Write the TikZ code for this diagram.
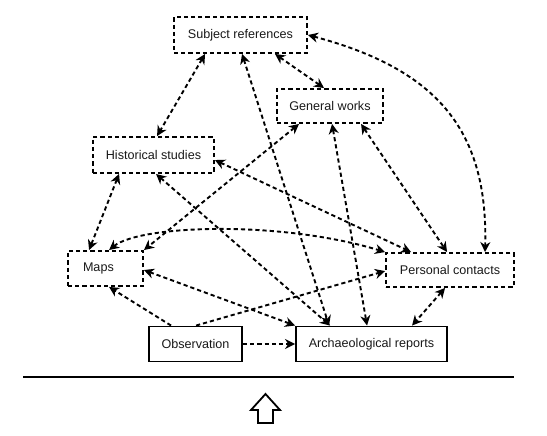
\documentclass[tikz,border=0pt]{standalone}
\usepackage{fontspec}
\setmainfont{Liberation Sans}
\usetikzlibrary{arrows.meta}
\begin{document}
\begin{tikzpicture}[x=1pt,y=-1pt,
  lbl/.style={font=\fontsize{12.6}{15}\selectfont, text=black!90, inner sep=0pt, align=center},
  dbox/.style={lbl, draw, line width=1.9pt, dash pattern=on 4.2pt off 3pt},
  sbox/.style={lbl, draw, line width=1.9pt},
  tip/.tip={Stealth[length=10pt,width=10pt,inset=3.2pt]},
  link/.style={line width=1.9pt, dash pattern=on 4.2pt off 3pt, tip-tip},
  onelink/.style={line width=1.9pt, dash pattern=on 4.2pt off 3pt, -tip}]
\useasboundingbox (0,0) rectangle (547,436);
% nodes
\node[dbox, minimum width=133pt, minimum height=36pt] (sr) at (240.5,35) {Subject references};
\node[dbox, minimum width=106pt, minimum height=34pt] (gw) at (330,106) {General works};
\node[dbox, minimum width=121pt, minimum height=36pt] (hs) at (153.5,155) {Historical studies};
\node[dbox, minimum width=75pt, minimum height=35pt, text width=45pt, inner xsep=15pt, align=left] (maps) at (105.5,268.5) {Maps};
\node[dbox, minimum width=128pt, minimum height=34pt] (pc) at (450,270) {Personal contacts};
\node[sbox, minimum width=93pt, minimum height=35pt] (obs) at (195.5,344) {Observation};
\node[sbox, minimum width=151pt, minimum height=35pt] (ar) at (371.5,344) {Archaeological reports};
% connectors
\draw[link] ([xshift=32pt]sr.south west) -- ([xshift=65pt]hs.north west);
\draw[link] ([xshift=69pt]sr.south west) -- ([xshift=34pt]ar.north west);
\draw[link] ([xshift=64pt]hs.south west) -- ([xshift=35pt]ar.north west);
\draw[link] ([xshift=23pt]gw.south west) -- (maps.north east);
\draw[link] ([xshift=56pt]gw.south west) -- ([xshift=72pt]ar.north west);
\draw[link] ([xshift=85pt]gw.south west) -- ([xshift=62pt]pc.north west);
\draw[link] ([xshift=60pt]pc.south west) -- ([xshift=117pt]ar.north west);
\draw[link] ([yshift=-24pt]hs.north east) -- ([xshift=26pt]pc.north west);
\draw[link] (sr.east) .. controls (440,70) and (488,133) .. ([xshift=100pt]pc.north west);
\draw[link] ([xshift=27pt]hs.south west) -- ([xshift=22pt]maps.north west);
\draw[link] ([xshift=42pt]maps.north west) .. controls (140,225) and (280,220) .. (pc.north west);
\draw[onelink] ([xshift=23pt]obs.north west) -- ([xshift=42pt]maps.south west);
\draw[onelink] ([xshift=48pt]obs.north west) -- ([yshift=-19pt]pc.north west);
\draw[onelink] (obs.east) -- (ar.west);
\draw[link] ([xshift=102pt]sr.south west) -- ([xshift=48pt]gw.north west);
\draw[link] ([yshift=-20pt]maps.north east) -- (ar.north west);
% separator and open arrow
\coordinate (la) at (23,377);
\coordinate (lb) at (514,377);
\draw[line width=2pt] (la) -- (lb);
\draw[line width=1.8pt, line join=miter] (265.5,394) -- (280,410) -- (273,410) -- (273,423) -- (258,423) -- (258,410) -- (251,410) -- cycle;
\end{tikzpicture}
\end{document}
